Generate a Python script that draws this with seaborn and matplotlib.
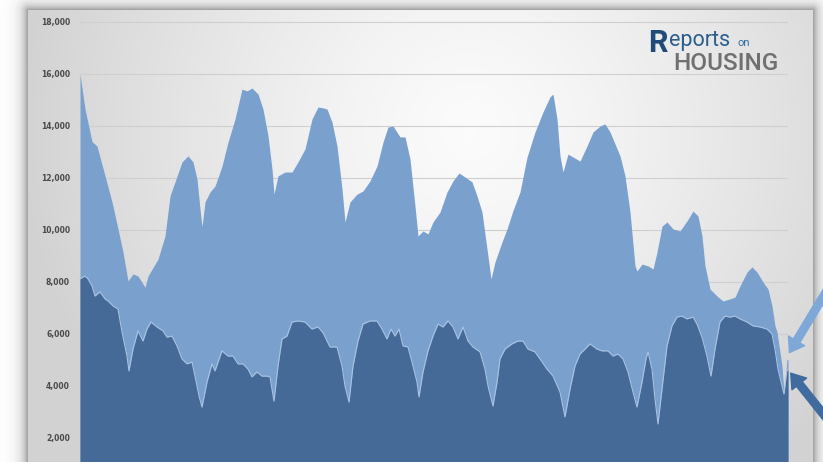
import numpy as np
import matplotlib
matplotlib.use("Agg")
import matplotlib.pyplot as plt
from matplotlib.ticker import FuncFormatter
import seaborn as sns

# Weekly active inventory (light) and demand (dark), week index from the start of the series
inv_week = [0, 5, 12, 17, 25, 32, 38, 43, 48, 53, 58, 65, 68, 78, 85, 90, 95, 102, 108, 113,
            117, 120, 122, 125, 130, 135, 142, 148, 155, 162, 167, 172, 178, 183, 188, 192, 194,
            198, 205, 212, 218, 225, 232, 238, 243, 247, 252, 257, 262, 265, 270, 277, 283, 290,
            297, 303, 308, 313, 320, 325, 330, 335, 338, 343, 348, 353, 360, 367, 373, 379, 385,
            392, 397, 402, 407, 411, 415, 422, 427, 433, 440, 447, 455, 463, 470, 473, 477, 480,
            483, 488, 493, 500, 507, 513, 520, 525, 530, 535, 540, 545, 550, 555, 557, 562, 568,
            573, 577, 582, 587, 593, 600, 607, 613, 618, 622, 625, 630, 637, 643, 650, 655, 660,
            667, 672, 677, 683, 688, 692, 695, 697, 702, 704, 707, 708]
inventory = [16000, 14650, 13400, 13230, 12080, 11080, 10040, 9150, 8040, 8310, 8230, 7800,
             8230, 8880, 9770, 11310, 11850, 12620, 12850, 12620, 11960, 10810, 10120, 11080,
             11460, 11690, 12460, 13380, 14270, 15420, 15350, 15460, 15230, 14650, 13620, 12350,
             11380, 12080, 12230, 12230, 12620, 13120, 14270, 14730, 14700, 14650, 14150, 13230,
             11580, 10310, 11080, 11380, 11500, 11890, 12460, 13380, 13960, 14000, 13580, 13580,
             12730, 10920, 9770, 9960, 9850, 10310, 10690, 11460, 11890, 12190, 12040, 11850,
             11310, 10690, 9270, 8120, 8770, 9540, 10040, 10750, 11460, 12800, 13770, 14540,
             15120, 15230, 14270, 12850, 12230, 12920, 12810, 12650, 13230, 13770, 14000, 14080,
             13770, 13310, 12850, 12080, 10690, 8620, 8420, 8690, 8620, 8500, 9150, 10150, 10310,
             10040, 9960, 10350, 10730, 10540, 9770, 8620, 7730, 7460, 7270, 7350, 7420, 7850,
             8380, 8580, 8380, 8000, 7730, 7080, 6310, 6080, 4770, 3690, 5040, 5000]

dem_week = [0, 5, 8, 12, 15, 20, 25, 28, 33, 38, 42, 47, 49, 53, 58, 63, 67, 71, 77, 83, 87,
            92, 97, 102, 107, 112, 115, 119, 122, 127, 132, 135, 142, 148, 153, 158, 163, 168,
            172, 177, 182, 187, 190, 194, 198, 202, 207, 212, 218, 225, 232, 238, 243, 250, 257,
            262, 265, 269, 273, 278, 283, 290, 297, 302, 307, 311, 315, 319, 323, 328, 333, 337,
            339, 343, 348, 353, 358, 363, 368, 373, 378, 383, 388, 393, 400, 405, 408, 413, 417,
            420, 425, 432, 438, 443, 448, 455, 460, 467, 473, 480, 485, 490, 495, 500, 505, 510,
            517, 522, 528, 533, 538, 543, 548, 553, 557, 562, 566, 568, 572, 575, 578, 582, 587,
            592, 597, 602, 607, 613, 617, 622, 627, 631, 635, 640, 645, 650, 655, 660, 667, 673,
            680, 687, 692, 695, 698, 702, 704, 707, 708]
demand = [8120, 8230, 8120, 7850, 7460, 7620, 7350, 7270, 7080, 6960, 6080, 5150, 4580, 5420,
          6120, 5730, 6190, 6460, 6270, 6120, 5880, 5920, 5540, 5040, 4850, 4920, 4380, 3620,
          3190, 4150, 4850, 4580, 5350, 5150, 5150, 4850, 4850, 4650, 4350, 4540, 4380, 4380,
          4350, 3420, 4770, 5810, 5920, 6460, 6500, 6460, 6190, 6270, 6050, 5500, 5500, 4770,
          4000, 3380, 4770, 5730, 6380, 6500, 6500, 6190, 5810, 6190, 5920, 6190, 5540, 5500,
          4770, 4150, 3580, 4540, 5350, 5920, 6380, 6270, 6500, 6270, 5810, 6270, 5730, 5500,
          5310, 4650, 4000, 3230, 4150, 5040, 5420, 5620, 5730, 5730, 5420, 5310, 5040, 4650,
          4380, 3770, 2810, 3880, 4770, 5230, 5420, 5620, 5420, 5350, 5350, 5150, 5230, 5040,
          4540, 3770, 3190, 4150, 5040, 5310, 4650, 3500, 2540, 3880, 5540, 6310, 6650, 6690,
          6580, 6650, 6380, 5880, 5150, 4380, 5420, 6460, 6690, 6650, 6690, 6580, 6460, 6310,
          6270, 6190, 6000, 5420, 4650, 4000, 3690, 4650, 4600]

y_ticks = [2000, 4000, 6000, 8000, 10000, 12000, 14000, 16000, 18000]

LIGHT = "#7aa0ce"
DARK = "#466a98"
EDGE = "#a9c3e3"

sns.set_theme(style="white")
plt.rcParams["font.family"] = ["DejaVu Sans"]

W, H = 823, 462
fig = plt.figure(figsize=(W / 100, H / 100), dpi=100)


def fx(px):
    return px / W


def fy(py):
    return 1 - py / H


# Card background with a soft radial highlight and a drop shadow around it
yy, xx = np.mgrid[0:H, 0:W].astype(float)
card_l, card_r, card_t = 28.0, 812.0, 10.0
d = np.hypot(xx - 470, yy - 130)
card = 0.985 - 0.16 * np.clip(d / 450.0, 0, 1) ** 1.3
dx = np.maximum(np.maximum(card_l - xx, xx - card_r), 0)
dy = np.maximum(card_t - yy, 0)
dist = np.hypot(dx, dy)
outside = dist > 0
shadow = 1 - 0.42 * np.exp(-dist / 6.0)
shade = np.where(outside, shadow, card)
img = np.dstack([shade, shade, shade])
bg = fig.add_axes([0, 0, 1, 1], zorder=0)
bg.imshow(img, extent=[0, W, H, 0], aspect="auto", interpolation="bilinear")
bg.set_axis_off()

# Main plot area
y_px_per_unit = 52 / 2000
top_px = 20
ylo = 18000 - (H - 22) / y_px_per_unit
yhi = 18000 + (22 - top_px) / y_px_per_unit
ax = fig.add_axes([fx(79), 0, fx(709), (H - top_px) / H], zorder=1)
ax.patch.set_alpha(0)
ax.set_xlim(-1, 708)
ax.set_ylim(ylo, yhi)

ax.fill_between(inv_week, inventory, ylo - 1000, color=LIGHT, lw=0, zorder=2)
ax.fill_between(dem_week, demand, ylo - 1000, color=DARK, lw=0, zorder=3)
sns.lineplot(x=dem_week, y=demand, ax=ax, color=EDGE, lw=0.8, zorder=4,
             estimator=None, sort=False)

ax.set_yticks(y_ticks)
ax.yaxis.set_major_formatter(FuncFormatter(lambda v, p: f"{int(v):,}"))
ax.set_xticks([])
ax.tick_params(axis="y", length=0, pad=6.5, labelsize=5.5, labelcolor="#4a4a4a")
for lab in ax.get_yticklabels():
    lab.set_fontweight("bold")
ax.yaxis.grid(True, color="#cfcfcf", lw=0.8)
ax.set_axisbelow(True)
ax.set_xlabel("")
ax.set_ylabel("")
for s in ax.spines.values():
    s.set_visible(False)

# Pointer arrows at the latest readings
fig.patches.append(matplotlib.patches.FancyArrowPatch(
    (fx(832), fy(282)), (fx(788), fy(355)), transform=fig.transFigure,
    arrowstyle="simple,head_width=1.5,head_length=1.1,tail_width=0.6",
    mutation_scale=9, color="#7ea8d8", zorder=5))
fig.patches.append(matplotlib.patches.FancyArrowPatch(
    (fx(832), fy(425)), (fx(789), fy(371)), transform=fig.transFigure,
    arrowstyle="simple,head_width=1.5,head_length=1.1,tail_width=0.6",
    mutation_scale=9, color="#3f6b9f", zorder=5))

# Logo
fig.text(fx(648), fy(52), "R", fontsize=22, color="#1f4c78", family="Roboto",
         fontweight="bold", va="baseline", ha="left", zorder=6)
fig.text(fx(669), fy(46), "eports", fontsize=15.5, color="#2b5d8e", family="Roboto",
         va="baseline", ha="left", zorder=6)
fig.text(fx(738), fy(46), "on", fontsize=8, color="#2f6b9c", family="Roboto",
         va="baseline", ha="left", zorder=6)
fig.text(fx(673), fy(70), "HOUSING", fontsize=17.5, color="#707070", family="Roboto",
         fontweight="medium", va="baseline", ha="left", zorder=6)

fig.savefig("out.png", dpi=100)
